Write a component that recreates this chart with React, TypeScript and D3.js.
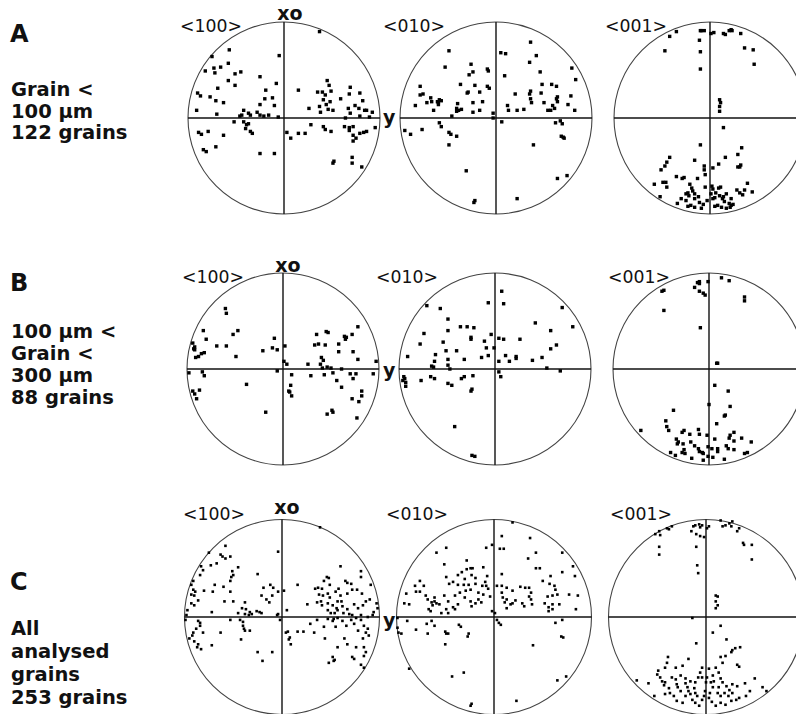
import React from 'react';
import * as d3 from 'd3';

type P = [number, number];

// Pole positions, in % of the net radius (x to the right, y upward)
const A100: P[] = [[-57,71],[-75,64],[-5,65],[-82,49],[-73,52],[-72,47],[-66,53],[-58,57],[-51,46],[-45,48],[-25,43],[-58,39],[-51,34],[-69,31],[-90,26],[-87,23],[-77,22],[-71,18],[-63,16],[-19,29],[-8,36],[-20,20],[-12,21],[-25,14],[-10,13],[-91,8],[-70,4],[-42,8],[-46,2],[-37,5],[-35,3],[-28,6],[-25,3],[-21,2],[-16,3],[-6,1],[-44,3],
[-52,-4],[-42,-4],[-39,-7],[-37,-6],[-40,-11],[-35,-14],[-33,-16],[-89,-15],[-86,-17],[-79,-14],[-63,-18],[-71,-30],[-84,-33],[-81,-35],[-25,-37],[-10,-37],
[37,90],[15,29],[45,39],[47,34],[35,27],[40,27],[43,24],[49,28],[69,32],[79,26],[68,25],[59,20],[41,19],[48,17],[44,14],[37,12],[51,8],[46,9],[26,10],[38,6],[67,10],[74,13],[78,10],[82,18],[84,8],[86,8],[92,6],[69,5],[64,0],[79,2],[89,1],
[3,-15],[7,-21],[15,-16],[22,-16],[28,-7],[41,-9],[43,-12],[49,-14],[63,-9],[68,-10],[72,-9],[68,-13],[72,-18],[79,-16],[83,-15],[86,-14],[95,-10],[52,-45],[51,-47],[71,-41],[71,-47],[81,-51],[75,-21],[72,-24]];

const A010: P[] = [[-49,70],[-53,53],[-26,56],[-28,45],[-24,48],[-9,51],[-8,49],[-79,33],[-79,24],[-76,25],[-68,21],[-72,16],[-67,17],[-61,17],[-59,19],[-60,16],[-57,18],[-60,14],[-84,13],[-65,8],[-37,35],[-30,26],[-29,27],[-22,34],[-17,27],[-9,33],[-7,31],[-40,15],[-41,10],[-39,8],[-36,9],[-41,7],[-24,16],[-14,17],[-24,6],[-17,8],[-46,2],[-3,5],
[-95,-13],[-89,-17],[-77,-12],[-59,-5],[-57,-9],[-49,-15],[-47,-17],[-41,-19],[-49,-28],[-31,-55],[-23,-88],[-22,-86],[-3,0],
[5,68],[10,67],[36,79],[42,65],[35,58],[46,48],[9,44],[48,35],[58,35],[63,33],[20,25],[36,28],[35,25],[36,20],[37,16],[47,26],[50,16],[63,20],[64,17],[64,22],[78,23],[79,52],[83,40],[82,8],[12,13],[13,8],[22,8],[29,9],[54,8],[57,8],[59,13],[61,10],[75,14],
[6,-4],[62,-5],[67,-3],[69,-6],[68,-19],[70,-20],[71,-21],[39,-28],[64,-63],[74,-60],[22,-84]];

const A001: P[] = [[-42,85],[-35,90],[-47,70],[-10,91],[-9,91],[-6,91],[1,88],[4,89],[14,88],[16,87],[20,91],[22,92],[23,91],[32,88],[-11,81],[-10,69],[-10,51],[36,73],[45,71],[46,56],[10,19],[11,16],[10,12],[10,7],[14,-10],
[-10,-28],[33,-31],[29,-38],[16,-41],[9,-48],[3,-52],[-16,-44],[-42,-41],[-45,-46],[-47,-50],[-51,-54],[-6,-50],[-6,-54],[-5,-59],[-13,-63],[31,-51],[29,-51],[32,-49],[-35,-61],[-29,-63],[-27,-62],[-58,-69],[-49,-67],[-45,-72],[-46,-67],[-21,-69],[-19,-73],[-23,-78],[-25,-79],[-22,-81],[-18,-76],[-16,-79],[-12,-82],[-5,-72],[2,-71],[3,-74],[9,-73],[11,-72],[6,-78],[1,-79],[3,-84],[5,-83],[10,-81],[13,-84],[14,-82],[15,-87],[17,-79],[22,-84],[20,-89],[22,-91],[28,-75],[31,-78],[34,-80],[39,-68],[44,-77],[36,-75],[-11,-88],[-7,-90],[-3,-86],[-16,-84],[-20,-91],[-23,-92],[-16,-93],[-9,-94],[-34,-89],[5,-92],[8,-91],[12,-93],[17,-94],[21,-93],[24,-90],[-30,-84],[-25,-86],[-52,-82]];

const B100: P[] = [[-60,63],[-59,58],[-83,40],[-52,36],[-47,40],[-80,31],[-94,27],[-92,23],[-92,20],[-93,21],[-69,24],[-59,24],[-82,17],[-85,16],[-91,12],[-88,13],[-49,13],[-21,19],[-9,32],[-11,22],[-6,20],[2,24],
[-98,-4],[-84,-3],[-82,-7],[-94,-23],[-92,-26],[-87,-22],[-90,-31],[-38,-16],[-18,-45],[-6,-2],
[35,36],[45,39],[47,38],[72,36],[78,44],[64,34],[66,33],[65,31],[33,25],[37,26],[44,25],[58,26],[58,18],[73,18],[78,10],[40,12],[42,9],[39,5],[26,5],[1,8],[4,5],[97,8],[46,2],[41,1],[50,1],
[9,-6],[8,-17],[6,-23],[7,-24],[9,-28],[29,-7],[43,-6],[52,-4],[56,-12],[61,0],[61,-19],[70,-5],[73,-10],[76,-5],[82,-23],[82,-28],[79,-34],[72,-31],[46,-47],[51,-43],[52,-45],[77,-51],[94,-5]];

const B010: P[] = [[-71,66],[-57,63],[-49,52],[-49,40],[-74,37],[-78,26],[-54,28],[-36,44],[-29,44],[-25,33],[-25,31],[-22,43],[-11,29],[-9,22],[-4,36],[-1,22],[-91,13],[-62,15],[-63,8],[-51,19],[-40,19],[-49,10],[-32,10],[-14,12],[-7,14],[-66,3],[-64,2],[-49,4],[-47,0],
[-95,-8],[-94,-10],[-93,-14],[-93,-18],[-96,-12],[-77,-12],[-67,-8],[-63,-10],[-35,-10],[-32,-8],[-23,-7],[-49,-15],[-45,-17],[-24,-21],[-25,-23],[-42,-60],[-24,-90],[-21,-91],
[7,81],[-7,69],[9,68],[70,64],[81,44],[42,48],[58,40],[4,32],[9,31],[26,31],[64,25],[58,21],[4,8],[11,14],[15,8],[22,13],[22,11],[39,9],[49,12],[54,1],[68,-2],
[6,-8],[4,-3]];

const B001: P[] = [[-12,90],[-10,91],[-10,89],[-15,85],[-10,81],[-6,79],[-4,77],[-1,91],[13,95],[21,92],[-49,81],[-47,82],[37,75],[37,71],[-47,61],[-9,43],[8,6],[9,6],
[6,-17],[20,-23],[22,-39],[0,-37],[-37,-43],[16,-49],[17,-48],[8,-57],[-45,-54],[-44,-60],[-42,-64],[-28,-66],[-26,-64],[-20,-68],[-11,-63],[-10,-68],[-2,-69],[6,-73],[22,-69],[26,-66],[21,-72],[26,-75],[34,-72],[44,-76],[-71,-64],[-34,-73],[-32,-76],[-33,-78],[-27,-78],[-19,-76],[-15,-80],[-11,-83],[-10,-86],[-7,-87],[-6,-88],[-1,-81],[3,-83],[9,-83],[9,-86],[18,-80],[20,-83],[26,-84],[-40,-87],[-35,-90],[-28,-87],[-25,-88],[-18,-93],[-6,-95],[-1,-91],[4,-92],[16,-94],[37,-88],[40,-87],[-26,-84]];

const C100: P[] = [[39,92],[-58,73],[-4,67],[-63,64],[-61,62],[-58,60],[-53,62],[-75,66],[-67,55],[-73,53],[-83,52],[-81,48],[-51,47],[-45,51],[-52,41],[-50,43],[-53,37],[-84,43],[-91,37],[-93,33],[-91,28],[-89,26],[-93,23],[-90,22],[-69,33],[-71,26],[-80,27],[-86,17],[-93,14],[-90,12],[-60,31],[-53,26],[-59,16],[-50,16],[-25,44],[-21,22],[-19,30],[-12,33],[-10,22],[-13,15],[-16,18],[-9,30],[-4,26],[-38,15],[-37,8],[-41,9],[-45,4],[-38,3],[-34,2],[-33,5],[-31,3],[-26,6],[-23,5],[-21,4],[-72,5],[-5,2],[-4,3],[2,27],[5,7],[-97,7],[-98,2],
[-99,-3],[-86,-4],[-84,-6],[-88,-12],[-91,-16],[-92,-19],[-95,-22],[-90,-25],[-86,-28],[-83,-33],[-87,-31],[-72,-29],[-63,-16],[-53,-3],[-43,-3],[-40,-5],[-40,-9],[-39,-12],[-38,-14],[-33,-14],[-42,-23],[-25,-36],[-20,-45],[-10,-36],[-2,-3],[-84,-9],[-81,-16],
[60,52],[81,47],[91,33],[16,33],[34,29],[37,30],[41,29],[46,41],[48,40],[49,33],[55,26],[58,29],[65,37],[67,35],[71,34],[72,28],[67,24],[77,28],[82,24],[60,22],[57,16],[61,16],[49,20],[42,22],[38,23],[47,24],[47,14],[41,12],[52,12],[56,9],[62,11],[67,8],[74,13],[78,9],[83,12],[86,16],[90,18],[97,14],[98,9],[94,5],[36,15],[40,16],[26,13],[47,7],[50,4],[54,4],[63,4],[69,3],[72,2],[81,2],[88,0],[93,2],[43,37],[81,41],
[6,-15],[7,-23],[8,-21],[9,-28],[4,-16],[16,-15],[22,-15],[33,-16],[29,-7],[43,-10],[44,-22],[52,-4],[55,-10],[57,-1],[62,-4],[66,-9],[71,-3],[74,-7],[76,-1],[78,-14],[81,-3],[84,-9],[86,-16],[88,-12],[89,-19],[83,-22],[84,-31],[86,-36],[84,-40],[81,-49],[84,-52],[72,-41],[74,-43],[76,-31],[64,-22],[67,-28],[57,-31],[52,-41],[53,-45],[54,-44],[48,-47],[36,-3],[47,-2],[53,-2],[57,7]];

const C010: P[] = [[19,97],[-49,71],[-8,71],[-2,74],[8,83],[6,70],[10,70],[37,81],[35,60],[43,66],[70,66],[-28,58],[-59,66],[-51,54],[-28,49],[-24,50],[-22,50],[-33,46],[-37,43],[-30,39],[-23,43],[-19,40],[-11,51],[-7,42],[-9,36],[-12,32],[-8,32],[8,44],[43,50],[47,50],[70,46],[81,52],[83,42],[-49,41],[-46,34],[-42,36],[-37,33],[-31,33],[-26,33],[-76,37],[-81,32],[-80,26],[-76,26],[-72,32],[-70,22],[-90,24],[-92,14],[-87,13],[-68,18],[-64,15],[-63,12],[-61,20],[-61,16],[-59,14],[-67,8],[-65,6],[-56,13],[-51,22],[-47,16],[-40,22],[-35,25],[-29,27],[-24,28],[-19,34],[-16,25],[-11,23],[-6,29],[-4,21],[3,32],[8,32],[13,30],[19,27],[27,31],[32,30],[36,30],[38,25],[50,37],[58,42],[57,34],[62,32],[63,28],[60,22],[65,23],[55,21],[52,14],[56,10],[60,13],[67,13],[77,23],[86,22],[84,8],[36,21],[38,18],[39,13],[29,14],[31,11],[22,17],[19,14],[17,13],[13,9],[11,15],[9,20],[8,25],[13,18],[-30,20],[-24,16],[-23,11],[-19,14],[-16,18],[-13,15],[-37,13],[-42,10],[-40,8],[-49,8],[-47,4],[-54,4],[-2,6],[1,4],[56,6],[60,8],
[-99,-1],[-99,-11],[-98,-16],[-95,-17],[-89,-4],[-80,-13],[-69,-7],[-68,-17],[-64,-4],[-61,-9],[-50,-15],[-49,-17],[-47,-17],[-36,-8],[-34,-10],[-27,-20],[-26,-17],[-50,-28],[-87,-53],[-43,-61],[-31,-57],[-23,-89],[-24,-91],[3,-3],[5,-6],
[63,-6],[70,-3],[69,-20],[71,-21],[40,-29],[65,-65],[74,-61],[23,-86],[7,-8]];

const C001: P[] = [[-52,85],[-48,88],[-47,84],[-38,90],[-35,93],[-40,91],[-48,72],[-48,64],[-13,93],[-11,94],[-7,95],[-6,92],[-4,94],[-15,88],[-10,85],[-6,83],[-2,82],[1,91],[3,93],[15,99],[17,93],[20,94],[24,96],[26,93],[27,98],[32,88],[34,91],[38,76],[39,74],[47,74],[47,59],[-10,72],[-9,53],[-8,45],[10,22],[12,21],[10,16],[12,12],[10,9],[-14,-1],
[15,-9],[7,-16],[21,-23],[-10,-27],[35,-31],[30,-32],[27,-34],[26,-36],[20,-40],[17,-47],[15,-41],[32,-49],[34,-51],[-18,-43],[-24,-50],[-31,-52],[-39,-41],[-40,-47],[-42,-52],[-49,-55],[-50,-59],[-47,-62],[-45,-66],[-43,-70],[-42,-67],[-38,-73],[-35,-62],[-31,-64],[-30,-69],[-29,-72],[-26,-76],[-21,-68],[-19,-72],[-18,-76],[-16,-79],[-12,-73],[-11,-78],[-9,-81],[-14,-85],[-11,-88],[-7,-91],[-4,-85],[-2,-81],[-1,-76],[0,-67],[-6,-57],[-4,-52],[3,-53],[7,-60],[10,-52],[13,-57],[15,-63],[17,-67],[21,-71],[24,-75],[27,-78],[27,-69],[32,-71],[40,-68],[45,-76],[41,-81],[34,-83],[31,-85],[26,-86],[20,-90],[15,-88],[10,-91],[6,-87],[3,-83],[4,-78],[7,-72],[12,-78],[15,-81],[-71,-65],[-59,-68],[-53,-81],[-33,-81],[-30,-86],[-24,-88],[-21,-81],[50,-63],[58,-72],[62,-76],[-21,-63],[-16,-66],[-26,-60],[-37,-78],[-42,-79],[-11,-67],[-8,-62],[-4,-62],[1,-62],[5,-67],[8,-66],[13,-72],[19,-78],[23,-81]];

const ROW_TITLES = ['A', 'B', 'C'];
const ROW_TEXT = [
  ['Grain <', '100 µm', '122 grains'],
  ['100 µm <', 'Grain <', '300 µm', '88 grains'],
  ['All', 'analysed', 'grains', '253 grains'],
];
const POLE_LABELS = ['<100>', '<010>', '<001>'];
const PANEL_DATA: P[][][] = [
  [A100, A010, A001],
  [B100, B010, B001],
  [C100, C010, C001],
];

// layout
const ROWS = [
  { cy: 118, r: 96, cxs: [284, 496, 710], titleY: 41.7, lineY: [96, 117.5, 139], labelY: 32, labelX: [180, 383, 605], xoY: 20, xoX: 290, yY: 124, dot: 3.4 },
  { cy: 369, r: 96, cxs: [283, 495, 709], titleY: 291, lineY: [338, 360, 382, 404], labelY: 283, labelX: [182, 376, 608], xoY: 271.5, xoX: 288, yY: 377, dot: 3.4 },
  { cy: 617, r: 97.5, cxs: [282, 494, 706], titleY: 590, lineY: [635, 658, 681, 704], labelY: 520, labelX: [183, 386, 610], xoY: 514, xoX: 287, yY: 627, dot: 2.6 },
];

const FONT = '"DejaVu Sans", Verdana, sans-serif';

export default function App() {
  return (
    <svg width={796} height={714} style={{ position: 'absolute', left: 0, top: 0, background: '#fff' }}>
      <rect x={0} y={0} width={796} height={714} fill="#fff" />
      {ROWS.map((row, ri) => (
        <g key={ri}>
          <text x={10} y={row.titleY} fontFamily={FONT} fontWeight="bold" fontSize={24} fill="#111">{ROW_TITLES[ri]}</text>
          {ROW_TEXT[ri].map((t, li) => (
            <text key={li} x={11} y={row.lineY[li]} fontFamily={FONT} fontWeight="bold" fontSize={19.5} fill="#111">{t}</text>
          ))}
          {row.cxs.map((cx, pi) => {
            const r = row.r;
            const x = d3.scaleLinear().domain([-100, 100]).range([cx - r, cx + r]);
            const y = d3.scaleLinear().domain([-100, 100]).range([row.cy + r, row.cy - r]);
            const pts = PANEL_DATA[ri][pi];
            const s = row.dot;
            return (
              <g key={pi}>
                <circle cx={x(0)} cy={y(0)} r={r} fill="none" stroke="#444" strokeWidth={1.1} />
                <line x1={x(-100)} x2={x(100)} y1={y(0)} y2={y(0)} stroke="#111" strokeWidth={1.6} />
                <line x1={x(0)} x2={x(0)} y1={y(100)} y2={y(-100)} stroke="#111" strokeWidth={1.4} />
                {pts.map((p, k) => (
                  <rect key={k} x={x(p[0]) - s / 2} y={y(p[1]) - s / 2} width={s} height={s} fill="#000" />
                ))}
                <text x={row.labelX[pi]} y={row.labelY} fontFamily={FONT} fontSize={17.3} fill="#111">{POLE_LABELS[pi]}</text>
              </g>
            );
          })}
          <text x={row.xoX} y={row.xoY} textAnchor="middle" fontFamily={FONT} fontWeight="bold" fontSize={19} fill="#111">xo</text>
          <text x={383} y={row.yY} fontFamily={FONT} fontWeight="bold" fontSize={19} fill="#111">y</text>
        </g>
      ))}
    </svg>
  );
}
